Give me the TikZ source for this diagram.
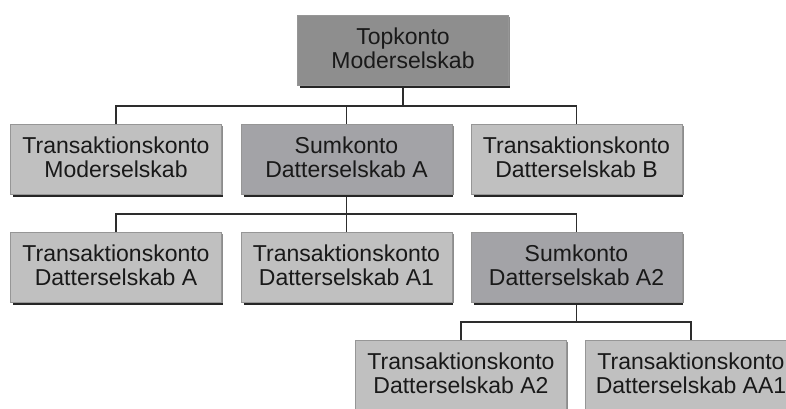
\documentclass[tikz,border=0pt]{standalone}
\usepackage{fontspec}
\setmainfont{Liberation Sans}
\definecolor{topfill}{RGB}{142,142,142}
\definecolor{sumfill}{RGB}{163,163,167}
\definecolor{trfill}{RGB}{192,192,192}
\definecolor{boxline}{RGB}{150,150,150}
\definecolor{conn}{RGB}{45,45,45}
\begin{document}
\begin{tikzpicture}[x=1pt,y=-1pt,
  acct/.style={draw=boxline, line width=0.8pt, minimum width=211pt, minimum height=70pt,
    inner sep=0pt, align=center, text=black!90, text depth=4pt,
    font=\fontsize{23}{23.5}\selectfont},
  topbox/.style={acct, fill=topfill},
  sumbox/.style={acct, fill=sumfill},
  trbox/.style={acct, fill=trfill},
  shadowline/.style={line width=2.2pt, black!85},
  connector/.style={draw=conn, line width=1.3pt}]
\useasboundingbox (0,0) rectangle (786,408);
\clip (0,0) rectangle (786,408);
% nodes
\node[topbox] (top) at (403,50) {Topkonto\\Moderselskab};
\node[trbox]  (tm)  at (116,159) {Transaktionskonto\\Moderselskab};
\node[sumbox] (sa)  at (346.5,159) {Sumkonto\\Datterselskab A};
\node[trbox]  (tb)  at (576.5,159) {Transaktionskonto\\Datterselskab B};
\node[trbox]  (ta)  at (116,267) {Transaktionskonto\\Datterselskab A};
\node[trbox]  (ta1) at (346.5,267) {Transaktionskonto\\Datterselskab A1};
\node[sumbox] (sa2) at (576.5,267) {Sumkonto\\Datterselskab A2};
\node[trbox]  (ta2) at (461,375) {Transaktionskonto\\Datterselskab A2};
\node[trbox]  (taa) at (691,375) {Transaktionskonto\\Datterselskab AA1};
% shadows
\foreach \n in {top,tm,sa,tb,ta,ta1,sa2,ta2,taa}{
  \draw[shadowline] ([xshift=3pt,yshift=-1.2pt]\n.south west) -- ([xshift=1pt,yshift=-1.2pt]\n.south east);
  \draw[black!45, line width=1pt] ([xshift=1pt,yshift=-2pt]\n.north east) -- ([xshift=1pt,yshift=-1pt]\n.south east);
}
% junctions
\coordinate (j1) at (403,106);
\coordinate (j2) at (346.5,214);
\coordinate (j3) at (576.5,322);
% connectors
\draw[connector] ([yshift=-2.3pt]top.south) -- (j1);
\draw[connector] (j1) -| (tm.north);
\draw[connector] (j1) -| (sa.north);
\draw[connector] (j1) -| (tb.north);
\draw[connector] ([yshift=-2.3pt]sa.south) -- (j2);
\draw[connector] (j2) -| (ta.north);
\draw[connector] (j2) -| (ta1.north);
\draw[connector] (j2) -| (sa2.north);
\draw[connector] ([yshift=-2.3pt]sa2.south) -- (j3);
\draw[connector] (j3) -| (ta2.north);
\draw[connector] (j3) -| (taa.north);
\end{tikzpicture}
\end{document}
